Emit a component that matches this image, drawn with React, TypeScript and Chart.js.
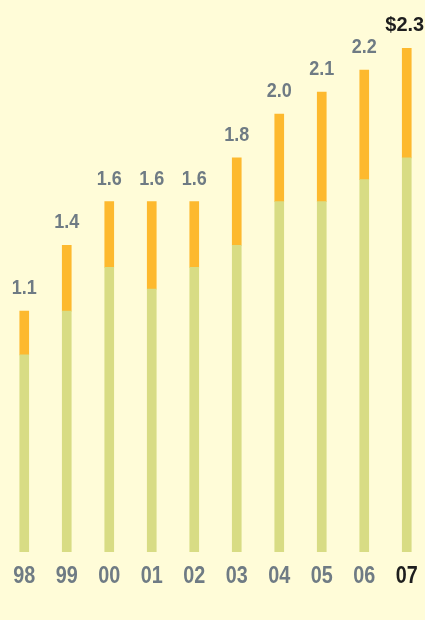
import React, { useEffect, useRef } from "react";
import { Chart, registerables } from "chart.js";

Chart.register(...registerables);

const years = ["98", "99", "00", "01", "02", "03", "04", "05", "06", "07"];
const greenValues = [0.9, 1.1, 1.3, 1.2, 1.3, 1.4, 1.6, 1.6, 1.7, 1.8];
const orangeValues = [0.2, 0.3, 0.3, 0.4, 0.3, 0.4, 0.4, 0.5, 0.5, 0.5];
const totalLabels = ["1.1", "1.4", "1.6", "1.6", "1.6", "1.8", "2.0", "2.1", "2.2", "$2.3"];

const BG = "#FFFCD8";
const GREEN = "#D8DC84";
const ORANGE = "#FDB92E";
const GRAY = "#6F7B84";
const BLACK = "#1E1E1E";
const FONT = "'Liberation Sans', Arial, sans-serif";

function drawCondensed(ctx: any, text: string, x: number, y: number, sx: number) {
  ctx.save();
  ctx.translate(x, y);
  ctx.scale(sx, 1);
  ctx.fillText(text, 0, 0);
  ctx.restore();
}

const textPlugin = {
  id: "textPlugin",
  afterDatasetsDraw(chart: any) {
    const ctx = chart.ctx;
    const meta = chart.getDatasetMeta(chart.data.datasets.length - 1);
    const bottom = chart.chartArea.bottom;
    ctx.save();
    ctx.textAlign = "center";
    ctx.textBaseline = "alphabetic";
    meta.data.forEach((bar: any, i: number) => {
      const last = i === years.length - 1;
      ctx.fillStyle = last ? BLACK : GRAY;
      if (last) {
        ctx.font = `bold 21px ${FONT}`;
        drawCondensed(ctx, totalLabels[i], bar.x - 2, bar.y - 17, 0.95);
      } else {
        ctx.font = `bold 20px ${FONT}`;
        drawCondensed(ctx, totalLabels[i], bar.x, bar.y - 17, 0.9);
      }
      ctx.font = `bold 23px ${FONT}`;
      drawCondensed(ctx, years[i], bar.x, bottom + 31, 0.86);
    });
    ctx.restore();
  },
};

export default function App() {
  const ref = useRef<HTMLCanvasElement>(null);
  useEffect(() => {
    document.body.style.margin = "0";
    document.body.style.background = BG;
    document.body.style.overflow = "hidden";
    const chart = new Chart(ref.current!, {
      type: "bar",
      data: {
        labels: years,
        datasets: [
          { label: "green", data: greenValues, backgroundColor: GREEN, barThickness: 9, borderWidth: 0 },
          { label: "orange", data: orangeValues, backgroundColor: ORANGE, barThickness: 9, borderWidth: 0 },
        ],
      },
      options: {
        animation: false,
        responsive: false,
        maintainAspectRatio: false,
        layout: { padding: { top: 4.5, left: 3, right: 4, bottom: 68 } },
        plugins: { legend: { display: false }, tooltip: { enabled: false } },
        scales: {
          x: { stacked: true, display: false },
          y: { stacked: true, display: false, min: 0, max: 2.5 },
        },
      },
      plugins: [textPlugin],
    });
    return () => chart.destroy();
  }, []);
  return (
    <div style={{ width: 425, height: 620, overflow: "hidden", background: BG }}>
      <canvas ref={ref} width={432} height={620} style={{ display: "block" }} />
    </div>
  );
}
